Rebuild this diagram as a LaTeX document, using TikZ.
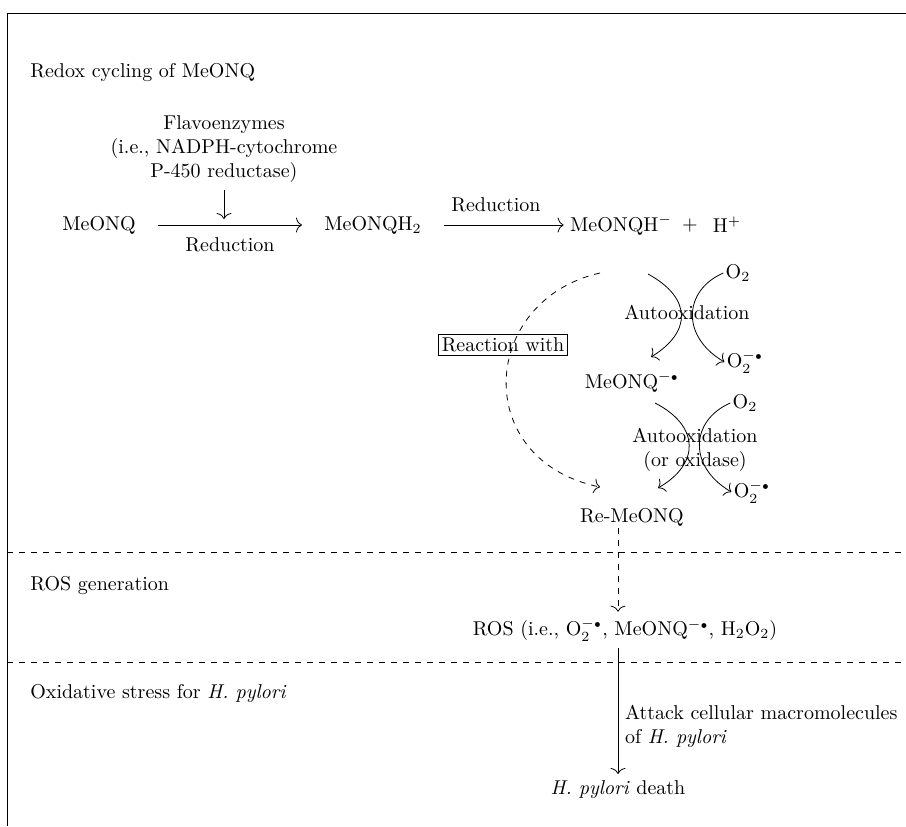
\documentclass[tikz,border=0pt]{standalone}
\usepackage{amsmath,amssymb}
\usepackage{tikz}
\usetikzlibrary{arrows.meta}
\newcommand{\rad}{$^{-\scriptscriptstyle\bullet}$}
\newcommand{\superox}{O$_2^{-\scriptscriptstyle\bullet}$}

\begin{document}
\begin{tikzpicture}[x=0.5pt,y=-0.5pt,>={To[length=3pt,width=7.5pt]},
    species/.style={inner sep=1pt},
    sect/.style={anchor=west,inner sep=0pt},
    react/.style={->,shorten <=10pt,shorten >=10pt}]
  \useasboundingbox (0,0) rectangle (906,826);
  \draw (906,13) -- (7,13) -- (7,826);
  \draw[dashed] (7,552) -- (906,552); \draw[dashed] (7,662) -- (906,662);
  \node[sect] (redox) at (30,73) {Redox cycling of MeONQ};
  \node[sect] (rosgen) at (30,585) {ROS generation};
  \node[sect] (stress) at (30,693) {Oxidative stress for \textit{H. pylori}};

  \node[align=center] (flavo) at (224,149) {Flavoenzymes\\(i.e., NADPH-cytochrome\\P-450 reductase)};
  \node[species] (q) at (99,225) {MeONQ};
  \node[species] (qh2) at (373,225) {MeONQH$_2$};
  \node[species] (qh) at (621,225) {MeONQH$^-$};
  \node[species] (plus) at (690,225) {+}; \node[species] (hp) at (727,225) {H$^+$};
  \draw[react] (q) -- node[below=3pt] (red1) {Reduction} (qh2);
  \coordinate (fhit) at (224,219);
  \draw[->] (flavo) -- (fhit);
  \draw[->,shorten <=10pt,shorten >=2pt] (qh2) -- node[above=3pt] (red2) {Reduction} (qh);

  \node[species] (o2a) at (738,273) {O$_2$};
  \node[species] (o2ma) at (745,362) {\superox};
  \node[species] (sq) at (632,382) {MeONQ\rad};
  \node (auto1) at (687,312) {Autooxidation};
  \coordinate (a1s) at (648,274); \coordinate (a1e) at (651,357);
  \draw[->] (a1s) .. controls (692,298) and (692,332) .. (a1e);
  \draw[->] (o2a.west) .. controls (684,290) and (680,336) .. (o2ma.west);

  \node[species] (o2b) at (745,403) {O$_2$};
  \node[species] (o2mb) at (752,492) {\superox};
  \node[species] (remq) at (632,517) {Re-MeONQ};
  \node[align=center] (auto2) at (695,450) {Autooxidation\\(or oxidase)};
  \coordinate (a2s) at (655,403); \coordinate (a2e) at (658,488);
  \draw[->] (a2s) .. controls (700,426) and (700,464) .. (a2e);
  \draw[->] (o2b.west) .. controls (691,420) and (687,466) .. (o2mb.west);

  \node[draw,inner sep=1.5pt] (rxn) at (503,345) {Reaction with};
  \coordinate (ds) at (600,273); \coordinate (de) at (600,487);
  \draw[dashed,->] (ds) .. controls (480,300) and (470,460) .. (de);

  \node (ros) at (625,630) {ROS (i.e., \superox, MeONQ\rad, H$_2$O$_2$)};
  \node (death) at (618,790) {\textit{H. pylori} death};
  \draw[dashed,->] (remq.south -| death.north) -- (ros.north -| death.north);
  \draw[->] (ros.south -| death.north) -- node[right,align=left,pos=0.62] (attack) {Attack cellular macromolecules\\of \textit{H. pylori}} (death);
\end{tikzpicture}
\end{document}
